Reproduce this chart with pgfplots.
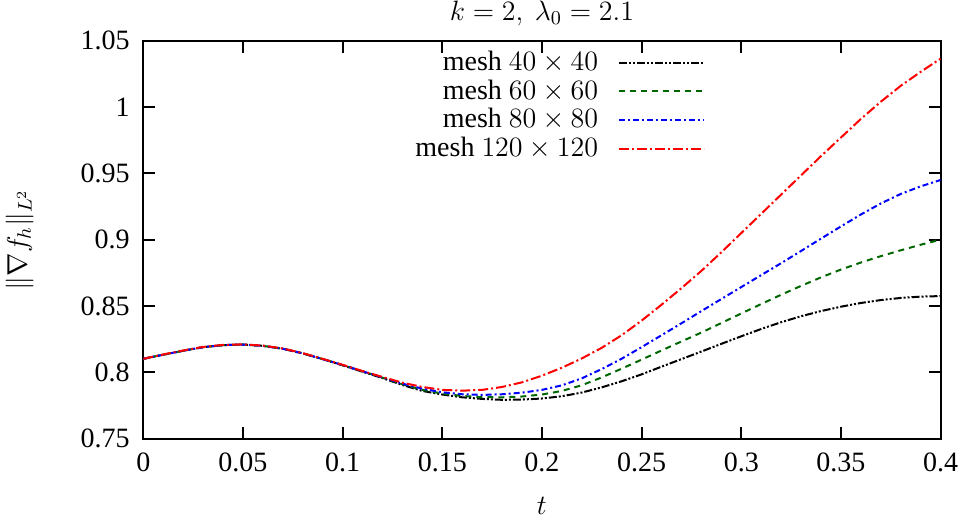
\RequirePackage{fix-cm}
\documentclass[border=0pt]{standalone}
\usepackage{fontspec}
\setmainfont{Liberation Serif}
\usepackage{pgfplots}
\pgfplotsset{compat=1.18}
\usepackage{pgfplotstable}

\pgfplotstableread{
t v
0.000 0.8102
0.010 0.8133
0.020 0.8163
0.030 0.8190
0.040 0.8205
0.050 0.8210
0.060 0.8200
0.070 0.8178
0.080 0.8143
0.090 0.8100
0.100 0.8053
0.110 0.8005
0.120 0.7957
0.130 0.7905
0.140 0.7860
0.150 0.7833
0.160 0.7812
0.170 0.7800
0.180 0.7793
0.190 0.7795
0.200 0.7803
0.210 0.7820
0.220 0.7848
0.230 0.7887
0.240 0.7933
0.250 0.7985
0.260 0.8043
0.270 0.8100
0.280 0.8157
0.290 0.8215
0.300 0.8272
0.310 0.8327
0.320 0.8378
0.330 0.8423
0.340 0.8462
0.350 0.8495
0.360 0.8523
0.370 0.8545
0.380 0.8561
0.390 0.8571
0.400 0.8575
}\meshA

\pgfplotstableread{
t v
0.000 0.8102
0.010 0.8133
0.020 0.8163
0.030 0.8190
0.040 0.8205
0.050 0.8210
0.060 0.8200
0.070 0.8178
0.080 0.8143
0.090 0.8100
0.100 0.8055
0.110 0.8008
0.120 0.7960
0.130 0.7910
0.140 0.7868
0.150 0.7840
0.160 0.7822
0.170 0.7813
0.180 0.7812
0.190 0.7818
0.200 0.7833
0.210 0.7860
0.220 0.7903
0.230 0.7962
0.240 0.8028
0.250 0.8096
0.260 0.8165
0.270 0.8233
0.280 0.8300
0.290 0.8372
0.300 0.8444
0.310 0.8515
0.320 0.8585
0.330 0.8652
0.340 0.8716
0.350 0.8775
0.360 0.8828
0.370 0.8876
0.380 0.8920
0.390 0.8962
0.400 0.9000
}\meshB

\pgfplotstableread{
t v
0.000 0.8102
0.010 0.8133
0.020 0.8163
0.030 0.8190
0.040 0.8205
0.050 0.8210
0.060 0.8200
0.070 0.8178
0.080 0.8143
0.090 0.8100
0.100 0.8055
0.110 0.8008
0.120 0.7962
0.130 0.7915
0.140 0.7877
0.150 0.7850
0.160 0.7835
0.170 0.7830
0.180 0.7835
0.190 0.7847
0.200 0.7868
0.210 0.7902
0.220 0.7955
0.230 0.8025
0.240 0.8103
0.250 0.8190
0.260 0.8280
0.270 0.8370
0.280 0.8462
0.290 0.8553
0.300 0.8643
0.310 0.8733
0.320 0.8823
0.330 0.8915
0.340 0.9008
0.350 0.9100
0.360 0.9190
0.370 0.9273
0.380 0.9345
0.390 0.9402
0.400 0.9450
}\meshC

\pgfplotstableread{
t v
0.000 0.8102
0.010 0.8135
0.020 0.8165
0.030 0.8192
0.040 0.8207
0.050 0.8211
0.060 0.8202
0.070 0.8180
0.080 0.8145
0.090 0.8102
0.100 0.8057
0.110 0.8010
0.120 0.7965
0.130 0.7922
0.140 0.7890
0.150 0.7868
0.160 0.7862
0.170 0.7868
0.180 0.7890
0.190 0.7925
0.200 0.7975
0.210 0.8035
0.220 0.8105
0.230 0.8185
0.240 0.8280
0.250 0.8390
0.260 0.8510
0.270 0.8635
0.280 0.8765
0.290 0.8905
0.300 0.9050
0.310 0.9195
0.320 0.9340
0.330 0.9485
0.340 0.9630
0.350 0.9770
0.360 0.9910
0.370 1.0040
0.380 1.0160
0.390 1.0265
0.400 1.0365
}\meshD

\begin{document}
\fontsize{14bp}{16.5bp}\selectfont
\begin{tikzpicture}
\useasboundingbox (-71.65bp,-39.15bp) rectangle (408.85bp,219.35bp);
\begin{axis}[
  at={(0,0)}, anchor=south west,
  scale only axis,
  width=398.65bp, height=199bp,
  xmin=0, xmax=0.4, ymin=0.75, ymax=1.05,
  xtick={0,0.05,...,0.4},
  ytick={0.75,0.8,0.85,0.9,0.95,1,1.05},
  xticklabels={0,0.05,0.1,0.15,0.2,0.25,0.3,0.35,0.4},
  yticklabels={0.75,0.8,0.85,0.9,0.95,1,1.05},
  tick align=inside, major tick length=6bp,
  tick style={line width=1bp, black},
  axis line style={line width=1bp},
  scaled ticks=false,
  /pgf/number format/assume math mode=true,
  xticklabel style={yshift=-2bp},
  yticklabel style={xshift=-2bp},
  title={$k=2,\ \lambda_0=2.1$},
  title style={at={(axis description cs:0.5,1.038)}, anchor=center},
  xlabel={$t$},
  xlabel style={at={(axis description cs:0.5,-0.168)}, anchor=center},
  ylabel={$\|\nabla f_h\|_{L^2}$},
  ylabel style={at={(axis description cs:-0.155,0.5)}, anchor=center, rotate=0},
  legend style={draw=none, fill=none, at={(axis description cs:0.7125,0.995)}, anchor=north east,
    legend cell align=right, row sep=-1.5bp},
  legend plot pos=right,
  legend image code/.code={\path (0bp,0bp); \draw[#1] (8bp,0bp) -- (50.5bp,0bp);},
]
\addplot[black, line width=1bp, dash pattern=on 4bp off 1bp on 1bp off 1bp on 1bp off 1bp] table[x=t,y=v] {\meshA};
\addlegendentry{mesh $40\times40$}
\addplot[green!40!black, line width=1bp, dash pattern=on 3bp off 2.5bp] table[x=t,y=v] {\meshB};
\addlegendentry{mesh $60\times60$}
\addplot[blue, line width=1bp, dash pattern=on 3bp off 1.5bp on 1bp off 1.5bp] table[x=t,y=v] {\meshC};
\addlegendentry{mesh $80\times80$}
\addplot[red, line width=1bp, dash pattern=on 5bp off 1.5bp on 1bp off 1.5bp] table[x=t,y=v] {\meshD};
\addlegendentry{mesh $120\times120$}
\end{axis}
\end{tikzpicture}
\end{document}
